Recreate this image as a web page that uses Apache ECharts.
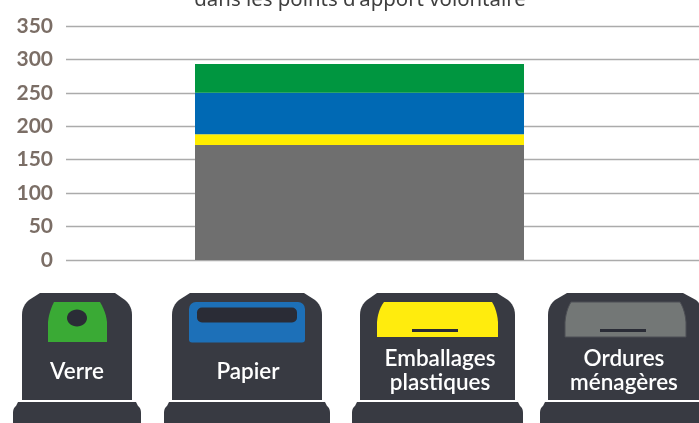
<!DOCTYPE html>
<html><head><meta charset="utf-8">
<style>html,body{margin:0;padding:0;background:#fff}#c{width:699px;height:423px}</style>
<script src="https://cdn.jsdelivr.net/npm/echarts@6/dist/echarts.min.js"></script>
</head><body><div id="c"></div>
<script>
const yTicks = [0, 50, 100, 150, 200, 250, 300, 350];
const category = ['Collecte'];
const seriesNames = ['Ordures ménagères', 'Emballages plastiques', 'Papier', 'Verre'];
const grisValues = [172];
const jauneValues = [16];
const bleuValues = [62];
const vertValues = [43];
const titleText = "dans les points d'apport volontaire";
const binLabels = ['Verre', 'Papier', 'Emballages\nplastiques', 'Ordures\nménagères'];

const BODY = '#383a42', SLOT = '#2a2c36';
const font = 'Lato, "Open Sans", sans-serif';

function curve(a, c, b) {
  const out = [];
  for (let i = 0; i <= 6; i++) {
    const t = i / 6, u = 1 - t;
    out.push([u*u*a[0] + 2*u*t*c[0] + t*t*b[0], u*u*a[1] + 2*u*t*c[1] + t*t*b[1]]);
  }
  return out;
}
function poly(points, fill, z, stroke) {
  return {type: 'polygon', silent: true, z: z || 5, shape: {points}, style: {fill, stroke: stroke || null, lineWidth: stroke ? 1 : 0}};
}
function body(l, r, tl, tr) {
  return poly([[tl,293],[tr,293],[r-7,300],...curve([r-7,300],[r,306],[r,315]),[r,400],[l,400],...curve([l,315],[l,306],[l+7,300])], BODY);
}
function base(l, r) {
  return poly([[l+5,402],[r-5,402],[r-3,406],...curve([r-3,406],[r,408],[r,413]),[r,423],[l,423],...curve([l,413],[l,408],[l+3,406])], BODY);
}
function label(text, x, y) {
  return {type: 'text', silent: true, z: 7, x, y, style: {
    text, fill: '#fff', font: `600 22.5px ${font}`, align: 'center', verticalAlign: 'middle', lineHeight: 24
  }};
}
function rect(x, y, width, height, fill, r) {
  return {type: 'rect', silent: true, z: 6, shape: {x, y, width, height, r: r || 0}, style: {fill}};
}
function lid(l, r, tl, tr, bottom, fill, stroke) {
  return poly([[tl,302],[tr,302],...curve([tr,302],[r-1,310],[r,322]),[r,bottom],[l,bottom],...curve([l,322],[l+1,310],[tl,302])], fill, 5, stroke);
}

const graphics = [
  {type: 'text', silent: true, x: 360, y: 10, style: {text: titleText, fill: '#3f3f3f', font: '20.4px "Noto Sans", sans-serif', align: 'center', verticalAlign: 'bottom'}},
  // Verre
  body(22, 132, 40, 115), base(13, 141),
  poly([[54,302],[100,302],...curve([100,302],[106,312],[107,322]),[107,342],[48,342],...curve([48,322],[49,312],[54,302])], '#3aaa35'),
  {type: 'ellipse', silent: true, z: 6, shape: {cx: 77, cy: 318, rx: 10, ry: 8.5}, style: {fill: SLOT}},
  label(binLabels[0], 77, 372),
  // Papier
  body(172, 322, 190, 304), base(164, 330),
  {type: 'rect', silent: true, z: 5, shape: {x: 189, y: 302, width: 116, height: 40.5, r: [7, 7, 3, 3]}, style: {fill: '#1d70b8'}},
  rect(197, 307.5, 100, 15, SLOT, 5),
  label(binLabels[1], 248, 372),
  // Emballages
  body(360, 515, 377, 497), base(352, 523),
  lid(377, 498, 384, 492, 337, '#ffec0d'),
  rect(412, 329, 46, 3, SLOT),
  label(binLabels[2], 440, 371),
  // Ordures
  body(548, 703, 567, 683), base(540, 711),
  lid(565, 686, 571, 680, 337, '#737776', '#4c4e54'),
  rect(600, 329, 46, 3, SLOT),
  label(binLabels[3], 624, 371)
];

function stacked(name, data, color) {
  return {name, type: 'bar', stack: 'total', data, xAxisIndex: 1, yAxisIndex: 1, barWidth: 329, itemStyle: {color}, silent: true};
}

const chart = echarts.init(document.getElementById('c'), null, {renderer: 'canvas'});
chart.setOption({
  animation: false,
  backgroundColor: '#fff',
  grid: [
    {left: 66, right: 0, top: 26, bottom: 163},
    {left: 20, right: 0, top: 26, bottom: 163}
  ],
  xAxis: [
    {type: 'category', gridIndex: 0, data: category, axisLine: {show: false}, axisTick: {show: false}, axisLabel: {show: false}},
    {type: 'category', gridIndex: 1, data: category, axisLine: {show: false}, axisTick: {show: false}, axisLabel: {show: false}}
  ],
  yAxis: [
    {type: 'value', gridIndex: 0, min: yTicks[0], max: yTicks[yTicks.length - 1], interval: 50,
     axisLine: {show: false}, axisTick: {show: false},
     axisLabel: {show: true, color: '#7b6e66', fontFamily: 'Lato, sans-serif', fontWeight: 700, fontSize: 21, margin: 13, align: 'right'},
     splitLine: {show: true, lineStyle: {color: '#ababab', width: 1.3}}},
    {type: 'value', gridIndex: 1, min: yTicks[0], max: yTicks[yTicks.length - 1], interval: 50, show: false, splitLine: {show: false}}
  ],
  series: [
    stacked(seriesNames[0], grisValues, '#6f6f6f'),
    stacked(seriesNames[1], jauneValues, '#ffed00'),
    stacked(seriesNames[2], bleuValues, '#0069b4'),
    stacked(seriesNames[3], vertValues, '#009640')
  ],
  graphic: {elements: graphics}
});
</script></body></html>
